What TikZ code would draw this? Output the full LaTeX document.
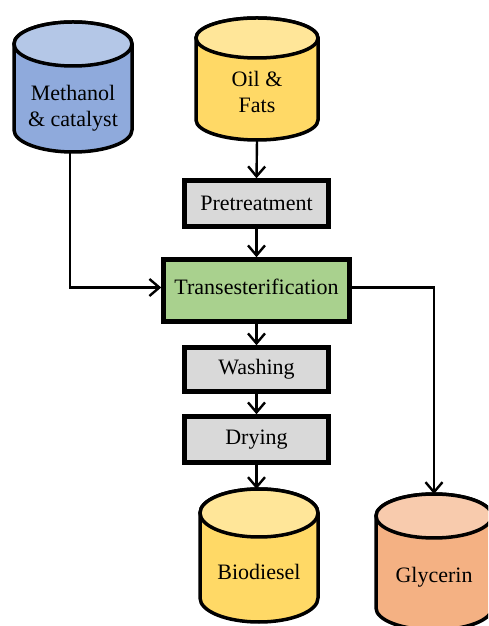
\documentclass[tikz,border=0pt]{standalone}
\usepackage{fontspec}
\setmainfont{Liberation Serif}
\usetikzlibrary{arrows.meta}

\definecolor{methbody}{HTML}{8FAADC}
\definecolor{methtop}{HTML}{B4C7E7}
\definecolor{oilbody}{HTML}{FFD966}
\definecolor{oiltop}{HTML}{FFE699}
\definecolor{glybody}{HTML}{F4B183}
\definecolor{glytop}{HTML}{F8CBAD}
\definecolor{reactfill}{HTML}{A9D18E}
\definecolor{stepfill}{HTML}{D9D9D9}

% tank: #1 centre x, #2 top y, #3 bottom y, #4 x radius, #5 y radius, #6 body, #7 lid
\newcommand{\drawtank}[7]{%
  \filldraw[tankline, fill=#6]
    ({#1-#4},{#2-#5}) -- ({#1-#4},{#3+#5})
    arc[start angle=180, end angle=360, x radius=#4, y radius=#5]
    -- ({#1+#4},{#2-#5})
    arc[start angle=0, end angle=180, x radius=#4, y radius=#5] -- cycle;
  \filldraw[tankline, fill=#7] (#1,{#2-#5}) ellipse[x radius=#4, y radius=#5];
}

\tikzset{
  tankline/.style={line width=3.5pt, draw=black},
  procbox/.style={draw=black, line width=4.5pt, fill=stepfill, inner sep=0pt,
    minimum width=144pt, minimum height=46pt,
    font=\fontsize{22}{26}\selectfont},
  reactbox/.style={procbox, fill=reactfill, minimum width=186pt, minimum height=62pt},
  tankarea/.style={inner sep=0pt, outer sep=0pt},
  tanklabel/.style={align=center, font=\fontsize{22}{26}\selectfont},
  flow/.style={line width=2.4pt, -{Straight Barb[length=10pt, width=17pt, line width=2.4pt]}}
}

\begin{document}
\begin{tikzpicture}[x=1pt, y=1pt]
\clip (0,0) rectangle (488,626);
\fill[white] (0,0) rectangle (488,626);

% feed and product tanks
\drawtank{73}{604}{474}{59}{22}{methbody}{methtop}
\drawtank{257}{608}{486}{61}{20}{oilbody}{oiltop}
\drawtank{259}{137}{4}{59}{24}{oilbody}{oiltop}
\drawtank{434}{132}{-4}{58}{22}{glybody}{glytop}

\node[tankarea, minimum width=118pt, minimum height=130pt] (meth) at (73,539) {};
\node[tankarea, minimum width=122pt, minimum height=122pt] (oil) at (257,547) {};
\node[tankarea, minimum width=118pt, minimum height=133pt] (bio) at (259,70.5) {};
\node[tankarea, minimum width=116pt, minimum height=136pt] (gly) at (434,64) {};

\node[tanklabel] (methtxt) at (73,518) {Methanol\\\& catalyst};
\node[tanklabel] (oiltxt) at (257,534) {Oil \&\\Fats};
\node[tanklabel] (biotxt) at (259,54) {Biodiesel};
\node[tanklabel] (glytxt) at (434,49) {Glycerin};

% process steps
\node[procbox] (pre) at (256.5,422.5) {Pretreatment};
\node[reactbox] (trans) at (256.5,335.5) {};
\node[font=\fontsize{22}{26}\selectfont, inner sep=0pt] (transtxt) at (256.5,339) {Transesterification};
\node[procbox, minimum height=44pt] (wash) at (256.5,256.5) {Washing};
\node[procbox] (dry) at (256.5,186.5) {Drying};

% flows
\draw[flow] (oil.south) -- (pre.north);
\draw[flow] (pre.south) -- (trans.north);
\draw[flow] ([xshift=-3pt]meth.south) |- ([yshift=3pt]trans.west);
\draw[flow] (trans.south) -- (wash.north);
\draw[flow] (wash.south) -- (dry.north);
\draw[flow] (dry.south) -- (dry.south |- bio.north);
\draw[flow] ([yshift=3pt]trans.east) -| (gly.north);
\end{tikzpicture}
\end{document}
